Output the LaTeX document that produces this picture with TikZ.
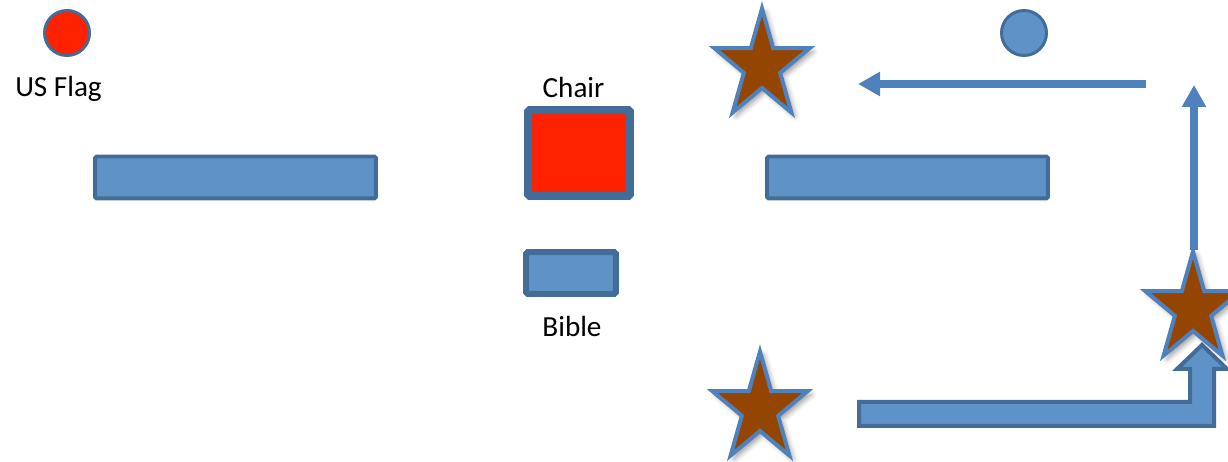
\documentclass[tikz,border=0pt]{standalone}
\usepackage{fontspec}
\setmainfont{Carlito}
\usetikzlibrary{arrows.meta,shapes.geometric,shadows.blur}
\definecolor{boxfill}{RGB}{95,147,200}
\definecolor{boxline}{RGB}{68,108,152}
\definecolor{lineblue}{RGB}{79,129,189}
\definecolor{flagred}{RGB}{255,34,0}
\definecolor{starfill}{RGB}{148,70,0}

\begin{document}
\begin{tikzpicture}[x=0.02cm,y=-0.02cm,
  box/.style={draw=boxline,fill=boxfill,line width=0.08cm,rounded corners=1pt,inner sep=0pt},
  bar/.style={box,minimum width=5.62cm,minimum height=0.84cm},
  dot/.style={circle,draw=boxline,fill=boxfill,line width=0.06cm,minimum size=0.9cm,inner sep=0pt},
  starnode/.style={star,star points=5,star point ratio=2.618,minimum size=2cm,inner sep=0pt,
    draw=lineblue,fill=starfill,line width=0.08cm,transform shape,
    blur shadow={shadow xshift=2pt,shadow yshift=-2pt,shadow blur radius=3pt}},
  lbl/.style={anchor=base,font=\fontsize{16.6}{20}\selectfont},
  walk/.style={draw=lineblue,line width=0.16cm,-{Triangle[length=0.44cm,width=0.46cm]}},
  bentarrow/.style={draw=boxline,fill=boxfill,line width=0.08cm}]
  \useasboundingbox (0,0) rectangle (1228,462);
  % left side
  \node[dot,fill=flagred] (flag) at (67,33) {};
  \node[lbl] (flaglbl) at (58.5,97) {US Flag};
  \node[bar] (lbar) at (235.5,177.5) {};
  % middle
  \node[lbl] (chairlbl) at (573.5,98) {Chair};
  \node[box,fill=flagred,line width=0.16cm,minimum width=2.04cm,minimum height=1.72cm] (chair) at (579,153) {};
  \node[box,line width=0.12cm,minimum width=1.8cm,minimum height=0.84cm] (bible) at (571,273) {};
  \node[lbl] (biblelbl) at (572,337) {Bible};
  % right side
  \node[bar] (rbar) at (907.5,177.5) {};
  \node[dot] (spot) at (1024,33) {};
  \coordinate (hstart) at (1146,84);
  \coordinate (hend) at (858,84);
  \coordinate (vtop) at (1194,85);
  \draw[walk] (hstart) -- (hend);
  \draw[walk] (1194,250) -- (vtop);
  \draw[bentarrow] (859,402) -- (1190,402) -- (1190,369) -- (1177,369) -- (1202,345) -- (1227,369)
    -- (1214,369) -- (1214,426) -- (859,426) -- cycle;
  \begin{scope}[shift={(762,66)},yscale=1.15]
    \node[starnode] (s1) {};
  \end{scope}
  \begin{scope}[shift={(760,409)},yscale=1.15]
    \node[starnode] (s2) {};
  \end{scope}
  \begin{scope}[shift={(1193,309)},yscale=1.15]
    \node[starnode] (s3) {};
  \end{scope}
\end{tikzpicture}
\end{document}
